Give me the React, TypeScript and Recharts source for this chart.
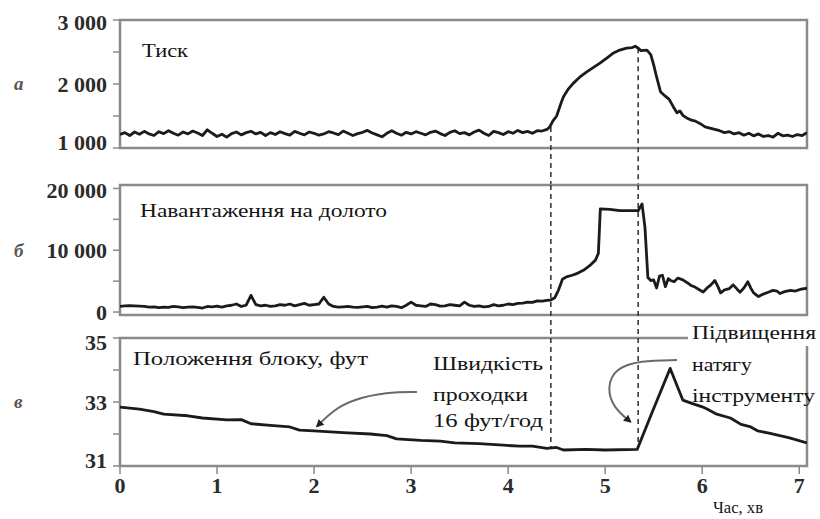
import React from 'react';
import { LineChart, Line, XAxis, YAxis, ReferenceLine, ReferenceArea } from 'recharts';

const W = 820;
const H = 519;
const SERIF = '"Liberation Serif", "Times New Roman", serif';
const CYR_SERIF = '"Liberation Serif", "DejaVu Serif", serif';
const X_MAX = 7.08;
const STEP = 0.05;

// x axis (хв)
const xTicks = [0, 1, 2, 3, 4, 5, 6, 7];
const xTickLabels = ['0', '1', '2', '3', '4', '5', '6', '7'];

// event times (dashed lines)
const eventTimes = [4.44, 5.34];

// ---- а: Тиск ----
const pressureTicks = [1000, 1500, 2000, 2500, 3000];
const pressureTickLabels = ['1 000', '', '2 000', '', '3 000'];
const pressureBase = [
  1210, 1240, 1195, 1250, 1215, 1260, 1220, 1195, 1255, 1225,
  1270, 1230, 1200, 1250, 1220, 1265, 1235, 1195, 1285, 1230,
  1180, 1215, 1170, 1225, 1250, 1205, 1240, 1260, 1220, 1245,
  1195, 1240, 1210, 1255, 1225, 1200, 1260, 1230, 1205, 1250,
  1230, 1200, 1220, 1255, 1235, 1210, 1265, 1230, 1195, 1225,
  1245, 1275, 1235, 1205, 1175, 1230, 1270, 1230, 1200, 1245,
  1220, 1255, 1230, 1205, 1245, 1265, 1225, 1195, 1245, 1270,
  1225, 1240, 1205, 1250, 1280, 1230, 1195, 1260, 1240, 1210,
  1255, 1230, 1275,
];
const pressureTail: [number, number][] = [
  [4.15, 1240], [4.2, 1260], [4.25, 1230], [4.3, 1270], [4.35, 1265], [4.4, 1290],
  [4.43, 1330], [4.46, 1420], [4.5, 1500], [4.54, 1680], [4.57, 1800], [4.62, 1920],
  [4.67, 2010], [4.74, 2110], [4.81, 2190], [4.88, 2260], [4.95, 2330], [5.02, 2410],
  [5.08, 2480], [5.15, 2530], [5.22, 2560], [5.28, 2570], [5.31, 2590], [5.34, 2560],
  [5.37, 2520], [5.43, 2530], [5.47, 2460], [5.5, 2300], [5.53, 2110], [5.57, 1880],
  [5.62, 1810], [5.66, 1760], [5.7, 1650], [5.74, 1550], [5.77, 1580], [5.8, 1510],
  [5.84, 1470], [5.88, 1440], [5.93, 1420], [5.98, 1380], [6.03, 1330], [6.08, 1310],
  [6.13, 1290], [6.18, 1270], [6.23, 1240], [6.28, 1255], [6.33, 1220], [6.38, 1240],
  [6.43, 1200], [6.48, 1230], [6.53, 1190], [6.58, 1220], [6.63, 1180], [6.68, 1195],
  [6.73, 1170], [6.78, 1230], [6.83, 1190], [6.88, 1200], [6.93, 1180], [6.98, 1210],
  [7.03, 1195], [7.08, 1240],
];

// ---- б: Навантаження на долото ----
const loadTicks = [0, 5000, 10000, 15000, 20000];
const loadTickLabels = ['0', '', '10 000', '', '20 000'];
const loadBase = [
  900, 1000, 1050, 1000, 950, 900, 800, 850, 700, 800,
  750, 900, 850, 700, 800, 850, 750, 650, 900, 850,
  950, 800, 1000, 1100, 1300, 900, 1100, 2700, 1200, 1000,
  1100, 900, 1000, 1200, 1100, 1300, 1000, 1200, 1400, 1100,
  1200, 1300, 2400, 1300, 900, 800, 850, 900, 800, 750,
  850, 900, 700, 800, 950, 800, 1000, 900, 700, 1100,
  1600, 1100, 1000, 900, 1300, 1200, 950, 1000, 1200, 1100,
  1000, 1600, 1100, 900, 1000, 850, 900, 1200, 1000, 1100,
  1300, 1200, 1400,
];
const loadTail: [number, number][] = [
  [4.15, 1450], [4.2, 1600], [4.25, 1550], [4.3, 1800], [4.35, 1750], [4.4, 1900],
  [4.44, 1950], [4.48, 2300], [4.52, 3600], [4.56, 5300], [4.6, 5700], [4.66, 5950],
  [4.72, 6300], [4.78, 6800], [4.84, 7500], [4.9, 8400], [4.93, 9500], [4.95, 16700],
  [5.05, 16600], [5.15, 16400], [5.25, 16400], [5.34, 16400], [5.38, 17500], [5.41, 13700],
  [5.44, 5600], [5.47, 5100], [5.5, 5200], [5.53, 3900], [5.56, 5800], [5.59, 5950],
  [5.62, 4100], [5.65, 5400], [5.67, 5150], [5.71, 4900], [5.75, 5500], [5.8, 5200],
  [5.85, 4700], [5.88, 4350], [5.93, 4000], [5.97, 3600], [6.01, 3250], [6.05, 3900],
  [6.09, 4400], [6.13, 5100], [6.16, 4200], [6.19, 3100], [6.23, 3600], [6.28, 3800],
  [6.32, 4400], [6.36, 3700], [6.39, 3200], [6.43, 3900], [6.47, 4900], [6.5, 3900],
  [6.53, 3100], [6.58, 2500], [6.63, 2900], [6.68, 3200], [6.73, 3500], [6.77, 3400],
  [6.8, 3000], [6.85, 3300], [6.91, 3500], [6.96, 3400], [7.02, 3700], [7.08, 3850],
];

// ---- в: Положення блоку, фут ----
const blockTicks = [31, 32, 33, 34, 35];
const blockTickLabels = ['31', '', '33', '', '35'];
const blockSeries: [number, number][] = [
  [0, 32.84], [0.2, 32.78], [0.35, 32.7], [0.45, 32.62], [0.7, 32.57], [0.85, 32.5],
  [1.1, 32.44], [1.25, 32.45], [1.35, 32.32], [1.55, 32.27], [1.75, 32.22], [1.85, 32.12],
  [2.0, 32.1], [2.3, 32.04], [2.58, 32.0], [2.75, 31.95], [2.85, 31.85], [3.1, 31.8],
  [3.3, 31.78], [3.45, 31.72], [3.7, 31.7], [3.95, 31.65], [4.12, 31.62], [4.25, 31.62],
  [4.4, 31.55], [4.5, 31.58], [4.57, 31.5], [4.8, 31.52], [5.0, 31.5], [5.33, 31.52],
  [5.5, 32.8], [5.67, 34.05], [5.8, 33.06], [5.9, 32.95], [6.0, 32.85], [6.05, 32.78],
  [6.15, 32.62], [6.29, 32.5], [6.4, 32.3], [6.5, 32.22], [6.57, 32.1], [6.7, 32.02],
  [6.9, 31.88], [7.08, 31.72],
];
// annotation arrows (data units of panel в)
const arrowRate: [number, number][] = [[3.06, 33.31], [2.75, 33.31], [2.4, 33.08], [2.2, 32.75], [2.03, 32.24]];
const arrowPull: [number, number][] = [[5.74, 34.31], [5.36, 34.3], [5.1, 34.05], [5.02, 33.45], [5.08, 32.84], [5.26, 32.38]];

const pairs = (arr: [number, number][]) => arr.map(([t, v]) => ({ t, v }));
const withBase = (base: number[], tail: [number, number][]) => [
  ...base.map((v, i) => ({ t: Math.round(i * STEP * 100) / 100, v })),
  ...pairs(tail),
];

const pressureData = withBase(pressureBase, pressureTail);
const loadData = withBase(loadBase, loadTail);
const blockData = pairs(blockSeries);

const INK = '#1b1b1b';
const FRAME = '#8a8a8a';

const makeYTick = (ticks: number[], labels: string[], nudge: Record<number, number>) => (props: any) => {
  const { x, y, payload } = props;
  const idx = ticks.indexOf(payload.value);
  const label = idx >= 0 ? labels[idx] : '';
  if (!label) return <g />;
  return (
    <text x={x - 4} y={y + (nudge[payload.value] ?? 0)} dy="0.36em" textAnchor="end" fill="#2b2b2b"
      fontSize={22} fontWeight="bold" fontFamily={SERIF}>{label}</text>
  );
};

const XTickLabel = (props: any) => {
  const { x, y, payload } = props;
  const idx = xTicks.indexOf(payload.value);
  return (
    <text x={x} y={y + 17} textAnchor="middle" fill="#2b2b2b" fontSize={22} fontWeight="bold" fontFamily={SERIF}>
      {idx >= 0 ? xTickLabels[idx] : ''}
    </text>
  );
};

type PanelProps = {
  data: { t: number; v: number }[];
  yDomain: [number, number];
  yTicks: number[];
  yLabels: string[];
  nudge: Record<number, number>;
  frameTop: number;
  frameBottom: number;
  showX: boolean;
  dashSegs: [number, number][];
  children?: React.ReactNode;
};

function Panel({ data, yDomain, yTicks, yLabels, nudge, frameTop, frameBottom, showX, dashSegs, children }: PanelProps) {
  return (
    <div style={{ position: 'absolute', left: 0, top: 0 }}>
      <LineChart width={W} height={H} margin={{ top: frameTop, right: W - 807, bottom: H - frameBottom - 30, left: 10 }}>
        <XAxis dataKey="t" type="number" domain={[0, X_MAX]} ticks={xTicks} allowDataOverflow
          axisLine={false} tickSize={8} height={30} tickLine={{ stroke: FRAME, strokeWidth: 1.5 }}
          tick={showX ? <XTickLabel /> : false} />
        <YAxis type="number" domain={yDomain} ticks={yTicks} allowDataOverflow width={110}
          axisLine={false} tickSize={7} tickLine={{ stroke: FRAME, strokeWidth: 1.5 }}
          tick={makeYTick(yTicks, yLabels, nudge)} />
        <ReferenceArea x1={0} x2={X_MAX} y1={yDomain[0]} y2={yDomain[1]} fill="none" fillOpacity={0}
          stroke={FRAME} strokeWidth={2.5} ifOverflow="visible" />
        {eventTimes.map((t, i) => (
          <ReferenceLine key={i} segment={[{ x: t, y: dashSegs[i][0] }, { x: t, y: dashSegs[i][1] }]}
            stroke="#3a3a3a" strokeWidth={1.6} strokeDasharray="5 4" ifOverflow="visible" />
        ))}
        <Line data={data} dataKey="v" type="linear" stroke={INK} strokeWidth={2.8} dot={false}
          strokeLinejoin="round" isAnimationActive={false} />
        {children}
      </LineChart>
    </div>
  );
}

type Note = { text: string; x: number; y: number; w: number; size: number };
const notes: Note[] = [
  { text: 'Тиск', x: 142, y: 57, w: 46, size: 19 },
  { text: 'Навантаження на долото', x: 140, y: 217, w: 247, size: 19 },
  { text: 'Положення блоку, фут', x: 133, y: 365, w: 235, size: 19 },
  { text: 'Швидкість', x: 433, y: 370, w: 110, size: 19 },
  { text: 'проходки', x: 433, y: 401, w: 95, size: 19 },
  { text: '16 фут/год', x: 433, y: 427, w: 110, size: 19 },
  { text: 'Підвищення', x: 692, y: 339, w: 124, size: 19 },
  { text: 'натягу', x: 692, y: 371, w: 60, size: 19 },
  { text: 'інструменту', x: 692, y: 402, w: 123, size: 19 },
  { text: 'Час, хв', x: 713, y: 513, w: 50, size: 16 },
];

export default function App() {
  return (
    <div style={{ position: 'absolute', left: 0, top: 0, width: W, height: H, background: '#fff' }}>
      <svg width={0} height={0} style={{ position: 'absolute' }}>
        <defs>
          <marker id="arrowHead" viewBox="0 0 10 10" refX="8" refY="5" markerWidth="8" markerHeight="8"
            markerUnits="userSpaceOnUse" orient="auto">
            <path d="M0,0 L10,5 L0,10 z" fill="#222" />
          </marker>
        </defs>
      </svg>
      <Panel data={pressureData} yDomain={[1000, 3000]} yTicks={pressureTicks} yLabels={pressureTickLabels}
        nudge={{ 1000: -6, 3000: 2 }} frameTop={20} frameBottom={148} showX={false}
        dashSegs={[[1330, 420], [2560, 420]]} />
      <Panel data={loadData} yDomain={[-480, 20560]} yTicks={loadTicks} yLabels={loadTickLabels}
        nudge={{ 20000: 2 }} frameTop={185} frameBottom={315} showX={false}
        dashSegs={[[20560, -4200], [20560, -4200]]} />
      <Panel data={blockData} yDomain={[31, 35]} yTicks={blockTicks} yLabels={blockTickLabels}
        nudge={{ 31: -6, 35: 4 }} frameTop={338} frameBottom={466} showX={true}
        dashSegs={[[35, 31.58], [35, 31.54]]}>
        <Line data={pairs(arrowRate)} dataKey="v" type="basis" stroke="#6a6a6a" strokeWidth={2} dot={false}
          markerEnd="url(#arrowHead)" isAnimationActive={false} />
        <Line data={pairs(arrowPull)} dataKey="v" type="basis" stroke="#6a6a6a" strokeWidth={2} dot={false}
          markerEnd="url(#arrowHead)" isAnimationActive={false} />
      </Panel>
      <svg width={W} height={H} style={{ position: 'absolute', left: 0, top: 0, pointerEvents: 'none' }}>
        <text x={14} y={90} fontSize={19} fontStyle="italic" fontWeight="bold" fill="#555" fontFamily={CYR_SERIF}>а</text>
        <text x={14} y={257} fontSize={19} fontStyle="italic" fontWeight="bold" fill="#555" fontFamily={CYR_SERIF}>б</text>
        <text x={14} y={408} fontSize={19} fontStyle="italic" fontWeight="bold" fill="#555" fontFamily={CYR_SERIF}>в</text>
        <rect x={688} y={320} width={132} height={26} fill="#fff" />
        {notes.map((n, i) => (
          <text key={i} x={n.x} y={n.y} fontSize={n.size} fill="#151515" textLength={n.w}
            lengthAdjust="spacingAndGlyphs" fontFamily={CYR_SERIF}>{n.text}</text>
        ))}
      </svg>
    </div>
  );
}
